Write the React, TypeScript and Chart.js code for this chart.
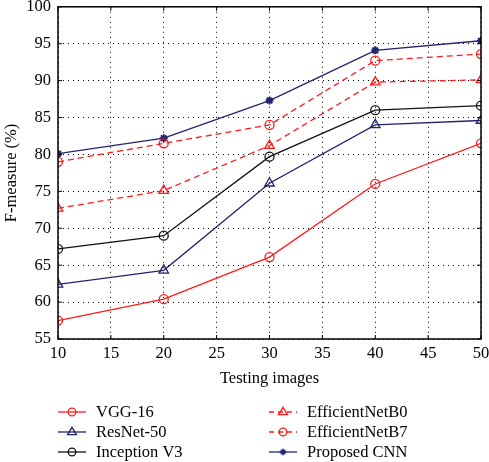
import React, { useEffect, useRef } from 'react';
import { Chart, registerables } from 'chart.js';
Chart.register(...registerables);

const testingImages = [10, 20, 30, 40, 50];
const vgg16 = [57.5, 60.4, 66.1, 76.0, 81.5];
const resnet50 = [62.4, 64.3, 76.1, 84.0, 84.6];
const inceptionV3 = [67.2, 69.0, 79.7, 86.0, 86.6];
const efficientNetB0 = [72.7, 75.1, 81.2, 89.8, 90.1];
const efficientNetB7 = [79.0, 81.5, 84.0, 92.7, 93.6];
const proposedCNN = [80.1, 82.2, 87.3, 94.1, 95.4];
const seriesNames = ['VGG-16', 'ResNet-50', 'Inception V3', 'EfficientNetB0', 'EfficientNetB7', 'Proposed CNN'];
const xTitle = 'Testing images';
const yTitle = 'F-measure (%)';

const RED = '#ff1a1a';
const NAVY = '#23236e';
const BLACK = '#111111';
const FONT = 'Liberation Serif';

type Style = { color: string; dash: number[]; point: string; radius: number };
const styles: Style[] = [
  { color: RED, dash: [], point: 'circle', radius: 4.5 },
  { color: NAVY, dash: [], point: 'triangle', radius: 5.5 },
  { color: BLACK, dash: [], point: 'circle', radius: 4.5 },
  { color: RED, dash: [6, 4], point: 'triangle', radius: 5.5 },
  { color: RED, dash: [6, 4], point: 'circle', radius: 4.5 },
  { color: NAVY, dash: [], point: 'star', radius: 4 },
];
const allSeries = [vgg16, resnet50, inceptionV3, efficientNetB0, efficientNetB7, proposedCNN];

function drawMarker(ctx: CanvasRenderingContext2D, style: string, x: number, y: number, r: number) {
  ctx.beginPath();
  if (style === 'circle') {
    ctx.arc(x, y, r, 0, Math.PI * 2);
    ctx.stroke();
  } else if (style === 'triangle') {
    ctx.moveTo(x, y - r);
    ctx.lineTo(x + r * 0.95, y + r * 0.55);
    ctx.lineTo(x - r * 0.95, y + r * 0.55);
    ctx.closePath();
    ctx.stroke();
  } else {
    for (let i = 0; i < 4; i++) {
      const a = (i * Math.PI) / 4;
      ctx.moveTo(x - Math.cos(a) * r, y - Math.sin(a) * r);
      ctx.lineTo(x + Math.cos(a) * r, y + Math.sin(a) * r);
    }
    ctx.stroke();
  }
}

const framePlugin = {
  id: 'frame',
  afterDraw(chart: any) {
    const { ctx, chartArea: a, scales } = chart;
    ctx.save();
    ctx.strokeStyle = '#000';
    ctx.lineWidth = 1.5;
    ctx.strokeRect(a.left, a.top, a.right - a.left, a.bottom - a.top);
    ctx.lineWidth = 1;
    const t = 4;
    ctx.beginPath();
    scales.x.ticks.forEach((tk: any) => {
      const px = scales.x.getPixelForValue(tk.value);
      ctx.moveTo(px, a.bottom);
      ctx.lineTo(px, a.bottom - t);
      ctx.moveTo(px, a.top);
      ctx.lineTo(px, a.top + t);
    });
    scales.y.ticks.forEach((tk: any) => {
      const py = scales.y.getPixelForValue(tk.value);
      ctx.moveTo(a.left, py);
      ctx.lineTo(a.left + t, py);
      ctx.moveTo(a.right, py);
      ctx.lineTo(a.right - t, py);
    });
    ctx.stroke();

    // legend
    const cols = [58, 269];
    const rows = [412, 432, 452];
    ctx.font = `16.5px "${FONT}"`;
    ctx.textBaseline = 'middle';
    ctx.textAlign = 'left';
    seriesNames.forEach((name, i) => {
      const c = Math.floor(i / 3);
      const r = i % 3;
      const x0 = cols[c];
      const y = rows[r];
      const s = styles[i];
      ctx.strokeStyle = s.color;
      ctx.fillStyle = s.color;
      ctx.lineWidth = 1.3;
      ctx.setLineDash(s.dash.length ? [5, 4] : []);
      ctx.beginPath();
      ctx.moveTo(x0, y);
      ctx.lineTo(x0 + 28, y);
      ctx.stroke();
      ctx.setLineDash([]);
      drawMarker(ctx, s.point, x0 + 14, y, s.radius * 0.85);
      ctx.fillStyle = '#000';
      ctx.fillText(name, x0 + 38, y + 1);
    });
    ctx.restore();
  },
};

export default function App() {
  const ref = useRef<HTMLCanvasElement>(null);
  useEffect(() => {
    document.body.style.margin = '0';
    const datasets = allSeries.map((vals, i) => ({
      label: seriesNames[i],
      data: testingImages.map((x, j) => ({ x, y: vals[j] })),
      borderColor: styles[i].color,
      backgroundColor: 'rgba(0,0,0,0)',
      borderWidth: 1.3,
      borderDash: styles[i].dash,
      pointStyle: styles[i].point as any,
      pointRadius: styles[i].radius,
      pointBorderWidth: styles[i].point === 'star' ? 2 : 1.3,
      pointBorderColor: styles[i].color,
      pointBackgroundColor: 'rgba(0,0,0,0)',
      tension: 0,
    }));
    const chart = new Chart(ref.current!, {
      type: 'line',
      data: { datasets },
      options: {
        animation: false,
        responsive: false,
        layout: { padding: { top: 5, right: 8, bottom: 73, left: 0 } },
        plugins: { legend: { display: false }, tooltip: { enabled: false } },
        scales: {
          x: {
            type: 'linear',
            min: 10,
            max: 50,
            ticks: { stepSize: 5, color: '#000', font: { family: FONT, size: 16.5 }, padding: 5, maxRotation: 0 },
            grid: { color: '#000', lineWidth: 1, drawTicks: false },
            border: { display: false, dash: [1, 4] },
            title: { display: true, text: xTitle, color: '#000', font: { family: FONT, size: 16.5 }, padding: { top: 8, bottom: 0 } },
            afterFit: (s: any) => { s.height = 50; s.paddingLeft = 0; s.paddingRight = 0; },
          },
          y: {
            min: 55,
            max: 100,
            ticks: { stepSize: 5, color: '#000', font: { family: FONT, size: 16.5 }, padding: 7 },
            grid: { color: '#000', lineWidth: 1, drawTicks: false },
            border: { display: false, dash: [1, 4] },
            title: { display: true, text: yTitle, color: '#000', font: { family: FONT, size: 16.5 }, padding: { top: 2, bottom: 0 } },
            afterFit: (s: any) => { s.width = 58; s.paddingTop = 0; s.paddingBottom = 0; },
          },
        },
      },
      plugins: [framePlugin],
    });
    return () => chart.destroy();
  }, []);
  return <canvas ref={ref} width={489} height={462} style={{ display: 'block' }} />;
}
